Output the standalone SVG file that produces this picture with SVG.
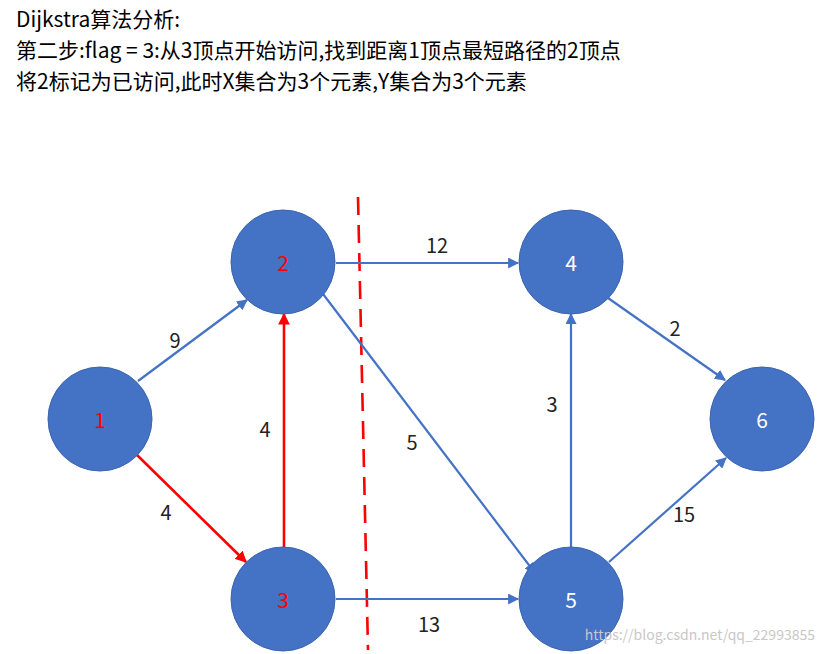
<svg xmlns="http://www.w3.org/2000/svg" width="825" height="654" viewBox="0 0 825 654">
<style>
text{font-family:"Noto Sans CJK SC","Liberation Sans",sans-serif}
.t{font-size:21px;fill:#000}
.n circle{fill:#4472C4;stroke:#3b64ad;stroke-width:1}
.n text{font-size:21px;text-anchor:middle;dominant-baseline:central}
.l{font-size:20px;fill:#222;text-anchor:middle}
.b{stroke:#4472C4;stroke-width:2.2;fill:none;marker-end:url(#ab)}
.r{stroke:#FF0000;stroke-width:2.6;fill:none;marker-end:url(#ar)}
</style>
<defs>
<marker id="ab" viewBox="0 0 10 10" refX="9" refY="5" markerWidth="5" markerHeight="5" orient="auto"><path d="M0,0L10,5L0,10z" fill="#4472C4"/></marker>
<marker id="ar" viewBox="0 0 10 10" refX="9" refY="5" markerWidth="4.5" markerHeight="4.5" orient="auto"><path d="M0,0L10,5L0,10z" fill="#FF0000"/></marker>
</defs>
<rect width="825" height="654" fill="#fff"/>
<text class="t" x="16" y="27">Dijkstra算法分析:</text>
<text class="t" x="16" y="58">第二步:flag = 3:从3顶点开始访问,找到距离1顶点最短路径的2顶点</text>
<text class="t" x="16" y="89">将2标记为已访问,此时X集合为3个元素,Y集合为3个元素</text>
<line x1="358" y1="197" x2="368" y2="650" stroke="#FF0000" stroke-width="2.6" stroke-dasharray="18,10"/>
<g id="edges">
<line class="b" x1="138" y1="381" x2="247" y2="300"/>
<line class="r" x1="137" y1="455" x2="246" y2="562"/>
<line class="r" x1="284" y1="547" x2="284" y2="314"/>
<line class="b" x1="336" y1="263" x2="518" y2="263"/>
<line class="b" x1="320" y1="290" x2="535" y2="573"/>
<line class="b" x1="336" y1="599" x2="518" y2="599"/>
<line class="b" x1="571" y1="547" x2="571" y2="314"/>
<line class="b" x1="608" y1="298" x2="725" y2="380"/>
<line class="b" x1="609" y1="562" x2="726" y2="458"/>
<text class="l" x="175" y="348">9</text>
<text class="l" x="166" y="520">4</text>
<text class="l" x="265" y="437">4</text>
<text class="l" x="437" y="253">12</text>
<text class="l" x="412" y="450">5</text>
<text class="l" x="429" y="632">13</text>
<text class="l" x="552" y="412">3</text>
<text class="l" x="675" y="336">2</text>
<text class="l" x="684" y="522">15</text>
</g>
<g id="n1" class="n"><circle cx="100" cy="419" r="52"/><text x="100" y="419" fill="#FF0000">1</text></g>
<g id="n2" class="n"><circle cx="283" cy="262" r="52"/><text x="283" y="262" fill="#FF0000">2</text></g>
<g id="n3" class="n"><circle cx="283" cy="599" r="52"/><text x="283" y="599" fill="#FF0000">3</text></g>
<g id="n4" class="n"><circle cx="571" cy="262" r="52"/><text x="571" y="262" fill="#fff">4</text></g>
<g id="n5" class="n"><circle cx="571" cy="599" r="52"/><text x="571" y="599" fill="#fff">5</text></g>
<g id="n6" class="n"><circle cx="762" cy="419" r="52"/><text x="762" y="419" fill="#fff">6</text></g>
<text x="815" y="640" font-size="14" fill="#c8c8c8" text-anchor="end">https://blog.csdn.net/qq_22993855</text>
</svg>
